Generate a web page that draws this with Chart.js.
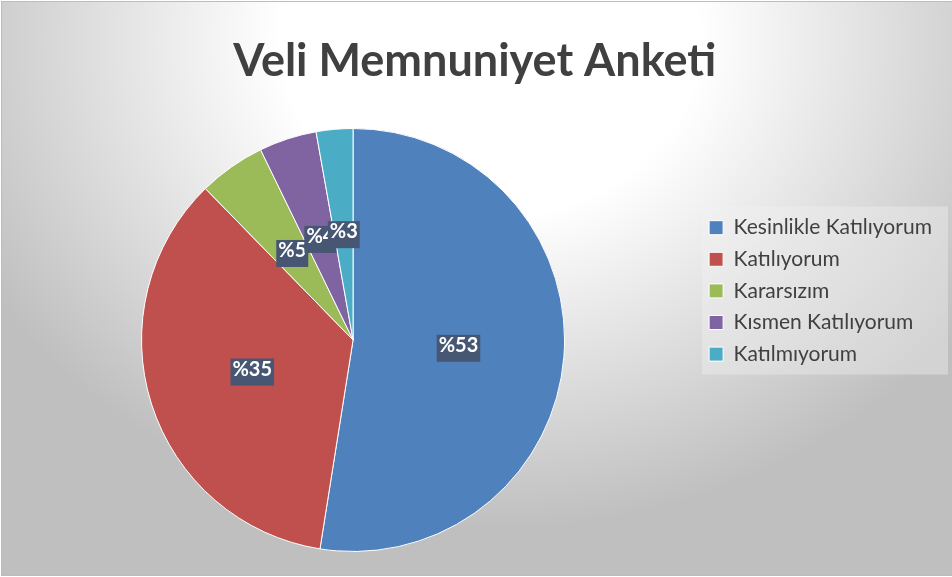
<!DOCTYPE html>
<html lang="tr">
<head>
<meta charset="utf-8">
<title>Veli Memnuniyet Anketi</title>
<script src="https://cdn.jsdelivr.net/npm/chart.js@4.4.1/dist/chart.umd.min.js"></script>
<style>
    html, body { margin: 0; padding: 0; background: #fff; }
    #wrap { width: 952px; height: 577px; }
</style>
</head>
<body>
<div id="wrap"><canvas id="veliChart" width="952" height="577"></canvas></div>
<script>
const chartTitle = "Veli Memnuniyet Anketi";
const categories = ["Kesinlikle Katılıyorum", "Katılıyorum", "Kararsızım", "Kısmen Katılıyorum", "Katılmıyorum"];
const shares = [52.5, 35.2, 5.1, 4.4, 2.8];
const sliceColors = ["#4F81BD", "#C0504D", "#9BBB59", "#8064A2", "#4BACC6"];

// background: elliptical gradient, white near the title, grey at the edges
const backgroundPlugin = {
    id: "background",
    beforeDraw(chart) {
        const ctx = chart.ctx;
        const w = chart.width, h = chart.height;
        ctx.save();
        ctx.fillStyle = "#ffffff";
        ctx.fillRect(0, 0, w, h);

        ctx.save();
        ctx.beginPath();
        ctx.rect(1, 1, w - 1, h - 2);
        ctx.clip();
        ctx.translate(490, 40);
        ctx.scale(1.185, 1);
        const g = ctx.createRadialGradient(0, 0, 0, 0, 0, 490);
        g.addColorStop(0, "#ffffff");
        g.addColorStop(0.36, "#ffffff");
        g.addColorStop(1, "#bfbfbf");
        ctx.fillStyle = g;
        ctx.fillRect(-500, -60, 1000, 700);
        ctx.restore();

        ctx.strokeStyle = "#bcbcbc";
        ctx.lineWidth = 1;
        ctx.strokeRect(1.5, 1.5, w - 1, h - 3);

        // legend box
        const lg = chart.legend;
        if (lg && lg.legendHitBoxes && lg.legendHitBoxes.length) {
            const first = lg.legendHitBoxes[0];
            const last = lg.legendHitBoxes[lg.legendHitBoxes.length - 1];
            const x0 = first.left - 7;
            const y0 = first.top - 10.7;
            const x1 = w - 4;
            const y1 = last.top + last.height + 10;
            ctx.fillStyle = "rgba(242,242,242,0.39)";
            ctx.fillRect(x0, y0, x1 - x0, y1 - y0);
        }
        ctx.restore();
    }
};

// percentage labels in dark boxes at the middle of each slice
const sliceLabelPlugin = {
    id: "sliceLabels",
    afterDatasetsDraw(chart) {
        const ctx = chart.ctx;
        const meta = chart.getDatasetMeta(0);
        const values = chart.data.datasets[0].data;
        const total = values.reduce((s, v) => s + v, 0);
        ctx.save();
        ctx.font = "bold 20px Lato";
        ctx.textAlign = "center";
        ctx.textBaseline = "alphabetic";
        meta.data.forEach((arc, i) => {
            const p = arc.getCenterPoint();
            const text = "%" + Math.round(values[i] / total * 100);
            const tw = ctx.measureText(text).width;
            ctx.fillStyle = "#475773";
            ctx.fillRect(p.x - tw / 2 - 2, p.y - 13.5, tw + 4, 27);
            ctx.fillStyle = "#ffffff";
            ctx.fillText(text, p.x, p.y + 3.5);
        });
        ctx.restore();
    }
};

document.addEventListener("DOMContentLoaded", () => {
    const ctx = document.getElementById("veliChart").getContext("2d");
    new Chart(ctx, {
        type: "pie",
        data: {
            labels: categories,
            datasets: [{
                data: shares,
                backgroundColor: sliceColors,
                borderColor: "#ffffff",
                borderWidth: 1
            }]
        },
        options: {
            responsive: false,
            animation: false,
            rotation: 0,
            layout: { padding: { top: 0, left: 7.6, right: 10.1, bottom: 25 } },
            plugins: {
                title: {
                    display: true,
                    text: chartTitle,
                    color: "#404040",
                    font: { family: "Lato", size: 45, weight: "bold" },
                    padding: { top: 34, bottom: 40 }
                },
                legend: {
                    position: "right",
                    align: "start",
                    title: {
                        display: true,
                        text: " ",
                        font: { size: 1, lineHeight: 1 },
                        padding: { top: 205.6, bottom: 0 }
                    },
                    labels: {
                        boxWidth: 14,
                        boxHeight: 14,
                        padding: 10.6,
                        color: "#404040",
                        font: { family: "Lato", size: 21 }
                    }
                },
                tooltip: { enabled: false }
            }
        },
        plugins: [backgroundPlugin, sliceLabelPlugin]
    });
});
</script>
</body>
</html>
